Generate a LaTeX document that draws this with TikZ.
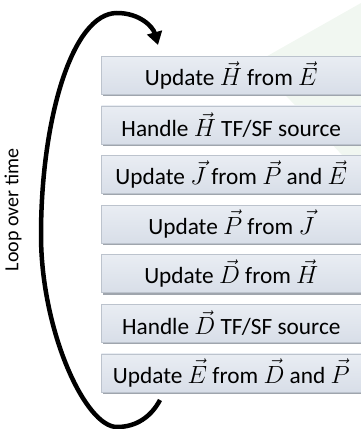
\documentclass[tikz,border=0pt]{standalone}
\usepackage{fontspec}
\setmainfont{Carlito}
\usetikzlibrary{arrows.meta,shadows}
\definecolor{boxtop}{HTML}{E9EDF3}
\definecolor{boxbot}{HTML}{D8DEE8}
\definecolor{boxline}{HTML}{BCC3CD}
\definecolor{boxshade}{HTML}{9FA5AD}
\definecolor{bgreen}{HTML}{F1F7F1}
\newcommand{\vv}[1]{\vec{#1}}
\tikzset{
  stepbox/.style={anchor=north west, minimum width=260pt, minimum height=38pt, inner sep=0pt,
    top color=boxtop, bottom color=boxbot, draw=boxline, line width=0.6pt,
    drop shadow={shadow xshift=1.2pt, shadow yshift=-1.8pt, fill=boxshade, opacity=1},
    font=\fontsize{23.3}{28}\selectfont},
  looparrow/.style={line width=4.5pt, -{Triangle[length=13pt,width=15pt]}},
  looplabel/.style={rotate=90, font=\fontsize{20}{24}\selectfont}
}
\begin{document}
\begin{tikzpicture}[x=1pt,y=-1pt]
\useasboundingbox (0,0) rectangle (361,429);
\fill[bgreen] (255,63) -- (361,3) -- (361,175) -- cycle;
\node[stepbox] (s1) at (101,56) {Update $\vv{H}$ from $\vv{E}$};
\node[stepbox] (s2) at (101,105.6) {Handle $\vv{H}$ TF/SF source};
\node[stepbox] (s3) at (101,155.2) {Update $\vv{J}$ from $\vv{P}$ and $\vv{E}$};
\node[stepbox] (s4) at (101,204.8) {Update $\vv{P}$ from $\vv{J}$};
\node[stepbox] (s5) at (101,254.4) {Update $\vv{D}$ from $\vv{H}$};
\node[stepbox] (s6) at (101,304) {Handle $\vv{D}$ TF/SF source};
\node[stepbox] (s7) at (101,353.6) {Update $\vv{E}$ from $\vv{D}$ and $\vv{P}$};
\coordinate (a0) at (160,400);
\coordinate (a1) at (117,427);
\coordinate (a2) at (41,235);
\coordinate (a3) at (117,13);
\coordinate (a4) at (158,45);
\draw[looparrow] (a0) .. controls (151,417) and (136,427) .. (a1)
  .. controls (85,427) and (41,330) .. (a2)
  .. controls (41,120) and (72,13) .. (a3)
  .. controls (140,13) and (153,27) .. (a4);
\node[looplabel] (lbl) at (13,210) {Loop over time};
\end{tikzpicture}
\end{document}
